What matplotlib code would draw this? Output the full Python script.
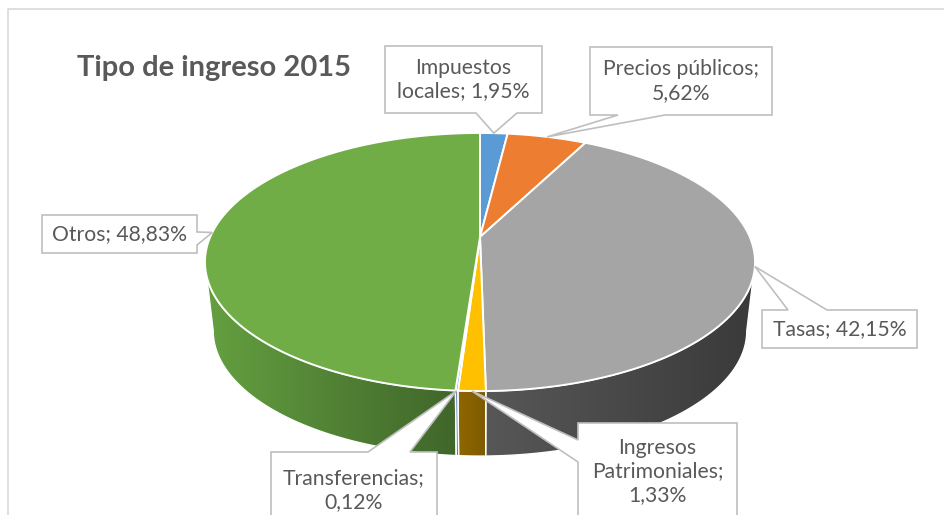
"""Tipo de ingreso 2015 — pastel 3D estilo Excel."""

import numpy as np
import matplotlib

matplotlib.use("Agg")
import matplotlib.pyplot as plt
from matplotlib.colors import to_rgb
from matplotlib.patches import Polygon

plt.rcParams["font.family"] = ["Lato", "DejaVu Sans"]

# ── datos ────────────────────────────────────────────────────────────────
title = "Tipo de ingreso 2015"
categories = [
    "Impuestos locales",
    "Precios públicos",
    "Tasas",
    "Ingresos Patrimoniales",
    "Transferencias",
    "Otros",
]
shares = [1.95, 5.62, 42.15, 1.33, 0.12, 48.83]
# cómo parte Excel cada etiqueta en líneas
label_fmt = [
    "Impuestos\nlocales; {}",
    "Precios públicos;\n{}",
    "Tasas; {}",
    "Ingresos\nPatrimoniales;\n{}",
    "Transferencias;\n{}",
    "Otros; {}",
]

# ── estilo ───────────────────────────────────────────────────────────────
top_colors = ["#5B9BD5", "#ED7D31", "#A5A5A5", "#FFC000", "#4472C4", "#70AD47"]
side_colors = [
    ("#3F72A3", "#2E5A85"),
    ("#B55A1E", "#8F4515"),
    ("#575757", "#3A3A3A"),
    ("#8F6700", "#7F5B00"),
    ("#2F5597", "#2F5597"),
    ("#64A040", "#40662A"),
]
TEXT = "#595959"
BOX_EDGE = "#BFBFBF"

# geometría en píxeles (perspectiva simple)
CX, CY = 480.0, 237.0
A, B, K = 269.8, 124.2, 0.194
A2, B2, DEPTH = A * 0.97, B * 0.97, 69.6

# cajas de etiqueta: (x0, y0, x1, y1), lado del piquito, base del piquito
boxes = [
    ((385, 46, 542, 113), "bottom", (476, 517)),
    ((590, 47, 772, 115), "bottom", (618, 665)),
    ((762, 310, 917, 348), "top", (788, 827)),
    ((578, 423, 737, 520), "left", (440, 462)),
    ((271, 452, 437, 528), "top", (368, 410)),
    ((42, 215, 197, 253), "right", (232, 245)),
]


def top_pt(t):
    r = np.radians(t)
    u, v = np.sin(r), np.cos(r)
    return CX + A * u / (1 + K * v), CY - B * v / (1 + K * v)


def bot_pt(t):
    r = np.radians(t)
    u, v = np.sin(r), np.cos(r)
    return CX + A2 * u / (1 + K * v), CY + DEPTH - B2 * v / (1 + K * v)


def callout(box, side, base, tip):
    x0, y0, x1, y1 = box
    a, b = base
    if side == "top":
        pts = [(x0, y0), (a, y0), tip, (b, y0), (x1, y0), (x1, y1), (x0, y1)]
    elif side == "right":
        pts = [(x0, y0), (x1, y0), (x1, a), tip, (x1, b), (x1, y1), (x0, y1)]
    elif side == "bottom":
        pts = [(x0, y0), (x1, y0), (x1, y1), (b, y1), tip, (a, y1), (x0, y1)]
    else:
        pts = [(x0, y0), (x1, y0), (x1, y1), (x0, y1), (x0, b), tip, (x0, a)]
    return pts


fig = plt.figure(figsize=(9.45, 5.15), dpi=100)
ax = fig.add_axes([0, 0, 1, 1])

angles = np.concatenate([[0], np.cumsum(np.array(shares) / sum(shares) * 360)])
t_lo = np.degrees(np.arccos(-K))
t_hi = 360 - t_lo

# ── costado ──────────────────────────────────────────────────────────────
for i in range(len(shares)):
    lo, hi = max(angles[i], t_lo), min(angles[i + 1], t_hi)
    if lo >= hi:
        continue
    ts = np.linspace(lo, hi, 80)
    tx, ty = top_pt(ts)
    bx, by = bot_pt(ts[::-1])
    xy = np.column_stack([np.concatenate([tx, bx]), np.concatenate([ty, by])])
    poly = Polygon(xy, closed=True, facecolor="none", edgecolor="none")
    ax.add_patch(poly)
    c0, c1 = np.array(to_rgb(side_colors[i][0])), np.array(to_rgb(side_colors[i][1]))
    w = np.linspace(0, 1, 256)[None, :, None]
    grad = c0 + (c1 - c0) * w
    grad = np.repeat(grad, 2, axis=0)
    im = ax.imshow(
        grad,
        extent=(xy[:, 0].min(), xy[:, 0].max(), xy[:, 1].max(), xy[:, 1].min()),
        aspect="auto",
        interpolation="bilinear",
        zorder=1,
    )
    im.set_clip_path(poly)
    ax.add_patch(
        Polygon(xy, closed=True, facecolor="none", edgecolor="white", lw=1.0, zorder=2)
    )

# ── tapa ─────────────────────────────────────────────────────────────────
for i in range(len(shares)):
    ts = np.linspace(angles[i], angles[i + 1], max(3, int(angles[i + 1] - angles[i]) * 2))
    tx, ty = top_pt(ts)
    xy = np.vstack([[CX, CY], np.column_stack([tx, ty])])
    ax.add_patch(
        Polygon(xy, closed=True, facecolor=top_colors[i], edgecolor="white",
                lw=1.4, joinstyle="miter", zorder=3)
    )

# ── etiquetas ────────────────────────────────────────────────────────────
for i, (box, side, base) in enumerate(boxes):
    mid = (angles[i] + angles[i + 1]) / 2
    tip = tuple(float(c) for c in top_pt(mid))
    ax.add_patch(
        Polygon(callout(box, side, base, tip), closed=True, facecolor="white",
                edgecolor=BOX_EDGE, lw=1.2, zorder=4)
    )
    pct = f"{shares[i]:.2f}".replace(".", ",") + "%"
    x0, y0, x1, y1 = box
    ax.text((x0 + x1) / 2, (y0 + y1) / 2, label_fmt[i].format(pct),
            ha="center", va="center", fontsize=15.2, color=TEXT,
            linespacing=1.25, zorder=5)

ax.text(214, 68, title, ha="center", va="center", fontsize=21,
        fontweight="bold", color=TEXT)

# marco del gráfico
ax.plot([8, 8, 945], [515, 9, 9], color="#D9D9D9", lw=1.2, zorder=0)

ax.set_xlim(0, 945)
ax.set_ylim(515, 0)
ax.axis("off")

fig.savefig("out.png", dpi=100)
